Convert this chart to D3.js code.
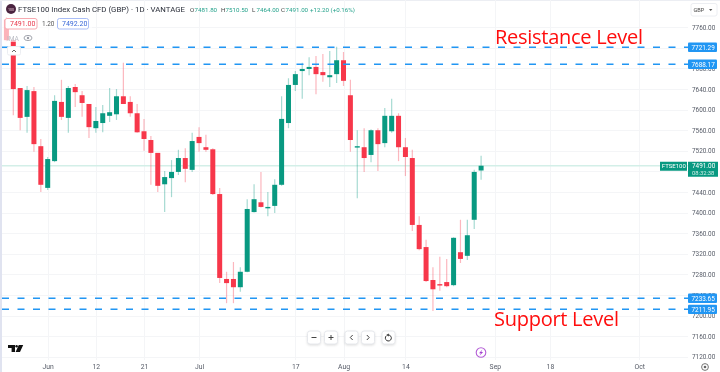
<!DOCTYPE html>
<html><head><meta charset="utf-8">
<script src="https://cdn.jsdelivr.net/npm/d3@7"></script>
<style>
html,body{margin:0;padding:0;background:#fff;overflow:hidden}
svg{display:block;filter:blur(.4px)}
text{font-family:Roboto,"Open Sans",sans-serif}
</style></head><body><div id="c"></div>
<script>
const sessions = d3.range(-1,69);
const opens=[7775,7735,7642,7586,7636,7529,7448,7500,7615,7584,7644,7628,7611,7564,7574,7588,7591,7626,7615,7593,7558,7541,7516,7455,7467,7479,7506,7483,7547,7527,7523,7436,7271,7271,7255,7285,7401,7420,7409,7413,7454,7574,7648,7675,7679,7683,7673,7663,7669,7696,7628,7527,7527,7512,7560,7535,7558,7588,7527,7506,7376,7333,7269,7261,7265,7259,7323,7316,7386,7481.8];
const highs=[7780,7738,7642,7646,7644,7543,7508,7628,7658,7646,7650,7636,7611,7605,7609,7642,7640,7691,7626,7611,7582,7549,7516,7481,7502,7522,7525,7555,7566,7551,7525,7448,7285,7304,7294,7426,7455,7479,7440,7465,7626,7661,7675,7691,7702,7704,7708,7714,7722,7712,7658,7560,7564,7562,7564,7603,7621,7593,7545,7522,7393,7347,7294,7314,7310,7352,7386,7386,7483,7510.5];
const lows=[7733,7589,7560,7555,7518,7440,7444,7498,7580,7555,7605,7586,7545,7555,7556,7576,7580,7611,7586,7555,7520,7454,7440,7401,7430,7473,7459,7479,7518,7518,7434,7263,7224,7224,7246,7284,7400,7410,7393,7399,7452,7564,7636,7621,7667,7630,7654,7644,7652,7646,7518,7428,7479,7498,7481,7527,7555,7500,7471,7364,7327,7265,7209,7248,7255,7257,7302,7308,7368,7464];
const closes=[7735,7640,7584,7638,7533,7454,7504,7617,7586,7642,7634,7613,7566,7578,7593,7595,7626,7611,7593,7556,7543,7516,7452,7469,7479,7506,7485,7539,7535,7522,7436,7273,7263,7255,7285,7407,7426,7411,7411,7454,7582,7648,7669,7679,7683,7669,7667,7667,7696,7656,7541,7529,7506,7560,7533,7588,7588,7527,7508,7376,7329,7267,7251,7259,7257,7351,7310,7356,7479,7491];
const priceTicks=d3.range(7120,7761,40);
const priceLabelTicks=priceTicks.filter(d=>d!==7720&&d!==7480);
const dateLabels=["Jun","12","21","Jul","17","Aug","14","Sep","18","Oct"];
const dateSessions=[5,12,19,27,41,48,57,70,78,91];
const levels=[7721.29,7688.17,7233.65,7211.95];
const lastPrice=7491, countdown="08:32:38";
const annotations=[["Resistance Level",7721.29],["Support Level",7211.95]];

const W=720,H=372,red="#f7374a",green="#089981",blue="#2196f3";
const x=d3.scaleLinear().domain([0,68]).range([13.3,481.1]);
const y=d3.scaleLinear().domain([7120,7760]).range([356.7,27.3]);
const svg=d3.select("#c").append("svg").attr("width",W).attr("height",H);
svg.append("rect").attr("width",W).attr("height",H).attr("fill","#fff");
svg.append("rect").attr("width",2).attr("height",H).attr("fill","#e0e3f0");
svg.append("rect").attr("width",W).attr("height",1).attr("fill","#eceef3");

const grid=svg.append("g").attr("stroke","#f4f5f7").attr("stroke-width",1);
grid.selectAll("line.h").data(priceTicks).join("line").attr("class","h").attr("x1",2).attr("x2",688).attr("y1",d=>Math.round(y(d))+.5).attr("y2",d=>Math.round(y(d))+.5);
grid.selectAll("line.v").data(dateSessions).join("line").attr("class","v").attr("y1",0).attr("y2",360).attr("x1",d=>Math.round(x(d))+.5).attr("x2",d=>Math.round(x(d))+.5);

svg.append("line").attr("x1",2).attr("x2",688).attr("y1",y(lastPrice)).attr("y2",y(lastPrice)).attr("stroke","#d3efe8").attr("stroke-width",1.6);

const candles=svg.append("g").selectAll("g").data(sessions).join("g");
const col=(s,k)=>closes[k]>=opens[k]?green:red;
candles.append("line").attr("x1",d=>x(d)).attr("x2",d=>x(d)).attr("y1",(d,k)=>y(highs[k])).attr("y2",(d,k)=>y(lows[k]))
  .attr("stroke",col).attr("stroke-opacity",.36).attr("stroke-width",1.2);
candles.append("rect").attr("x",d=>x(d)-2.5).attr("width",5)
  .attr("y",(d,k)=>y(Math.max(opens[k],closes[k])))
  .attr("height",(d,k)=>Math.max(1.4,Math.abs(y(opens[k])-y(closes[k]))))
  .attr("fill",col);

const ax=svg.append("g").attr("transform","translate(688,0)").call(d3.axisRight(y).tickValues(priceLabelTicks).tickFormat(d3.format(".2f")).tickSize(0).tickPadding(4));
ax.select(".domain").remove();
ax.selectAll("text").attr("font-size",6.4).attr("fill","#555a66").attr("style","font-family:Roboto,sans-serif");
const bx=svg.append("g").attr("transform","translate(0,362.5)").call(d3.axisBottom(x).tickValues(dateSessions).tickFormat((d,k)=>dateLabels[k]).tickSize(0).tickPadding(2));
bx.select(".domain").remove();
bx.selectAll("text").attr("font-size",6.8).attr("fill","#555a66").attr("style","font-family:Roboto,sans-serif");

const dash=svg.append("g");
dash.selectAll("line").data(levels).join("line").attr("x1",2).attr("x2",688).attr("y1",d=>y(d)).attr("y2",d=>y(d))
  .attr("stroke",blue).attr("stroke-width",1.5).attr("stroke-dasharray","7 8.5");
const tag=svg.append("g").selectAll("g").data(levels).join("g").attr("transform",d=>`translate(688,${y(d)})`);
tag.append("rect").attr("y",-4.7).attr("width",29).attr("height",9.4).attr("rx",1).attr("fill",blue);
tag.append("text").attr("x",3.5).attr("y",2.4).attr("font-size",6.4).attr("fill","#fff").text(d=>d.toFixed(2));

svg.append("rect").attr("x",660).attr("y",y(lastPrice)-4).attr("width",27).attr("height",9).attr("fill",green);
svg.append("text").attr("x",661.8).attr("y",y(lastPrice)+2.3).attr("font-size",6).attr("fill","#fff").text("FTSE100");
svg.append("rect").attr("x",688).attr("y",y(lastPrice)-4).attr("width",30).attr("height",15).attr("fill",green);
svg.append("text").attr("x",692).attr("y",y(lastPrice)+2.4).attr("font-size",6.4).attr("fill","#fff").text(lastPrice.toFixed(2));
svg.append("text").attr("x",692).attr("y",y(lastPrice)+9.2).attr("font-size",5.8).attr("fill","#d5efe9").text(countdown);

svg.append("g").selectAll("text").data(annotations).join("text")
  .attr("x",(d,k)=>k?494:495).attr("y",(d,k)=>y(d[1])+(k?17:-3)).attr("font-size",20).attr("fill","#ff0d0d")
  .attr("style","font-family:'Open Sans',sans-serif").attr("textLength",(d,k)=>k?125:148).text(d=>d[0]);

// legend overlay
svg.append("rect").attr("x",2).attr("y",1).attr("width",90).attr("height",41).attr("fill","#fff").attr("opacity",.62);
svg.append("circle").attr("cx",11).attr("cy",9).attr("r",5).attr("fill","#4a2440");
svg.append("text").attr("x",11).attr("y",10.5).attr("text-anchor","middle").attr("font-size",3.6).attr("fill","#e9c9d6").text("100");
svg.append("text").attr("x",18).attr("y",12).attr("font-size",7.8).attr("fill","#2a2e39").attr("textLength",167).text("FTSE100 Index Cash CFD (GBP) · 1D · VANTAGE");
const ohlc=[["O","7481.80",190],["H","7510.50",221],["L","7464.00",252],["C","7491.00",281],["","+12.20 (+0.16%)",310]];
const lg=svg.append("g").selectAll("g").data(ohlc).join("g").attr("transform",d=>`translate(${d[2]},11.5)`);
lg.append("text").attr("font-size",6.2).attr("fill","#444").text(d=>d[0]);
lg.append("text").attr("x",d=>d[0]?4.6:0).attr("font-size",6.2).attr("fill","#26a28c").text(d=>d[1]);
svg.append("rect").attr("x",5).attr("y",18.5).attr("width",32).attr("height",10.5).attr("rx",2).attr("fill","#fff").attr("stroke","#f7a9b0");
svg.append("text").attr("x",10).attr("y",26).attr("font-size",7).attr("fill","#e8364a").text("7491.00");
svg.append("text").attr("x",42).attr("y",26).attr("font-size",6.4).attr("fill","#555").text("1.20");
svg.append("rect").attr("x",57.5).attr("y",18.5).attr("width",31).attr("height",10.5).attr("rx",2).attr("fill","#fff").attr("stroke","#a9bdf7");
svg.append("text").attr("x",62).attr("y",26).attr("font-size",7).attr("fill","#3a68d8").text("7492.20");
svg.append("text").attr("x",7).attr("y",41).attr("font-size",6.6).attr("fill","#b9bcc4").text("IMA");
svg.append("ellipse").attr("cx",28).attr("cy",38).attr("rx",4).attr("ry",2.6).attr("fill","none").attr("stroke","#9a9da6").attr("stroke-width",.9);
svg.append("circle").attr("cx",28).attr("cy",38).attr("r",1.2).attr("fill","#9a9da6");
svg.append("rect").attr("x",7.5).attr("y",46.5).attr("width",13).attr("height",8.5).attr("rx",1.5).attr("fill","#fff").attr("stroke","#eceef2");
svg.append("path").attr("d","M12 52l2-2 2 2").attr("fill","none").attr("stroke","#555").attr("stroke-width",.9);

// GBP button
svg.append("rect").attr("x",691).attr("y",3.5).attr("width",26).attr("height",12.5).attr("rx",2).attr("fill","#fff").attr("stroke","#eceef2");
svg.append("text").attr("x",693.5).attr("y",12).attr("font-size",5.6).attr("fill","#444").text("GBP");
svg.append("path").attr("d","M709 9h3.4l-1.7 2z").attr("fill","#555");

// TV logo
svg.append("path").attr("fill","#111").attr("d","M8 345h7v7h-3.4v-4H8zM15.6 352l3.2-7h4.4l-3.2 7z");
svg.append("circle").attr("cx",16.6).attr("cy",346.3).attr("r",1.2).attr("fill","#111");

// nav buttons
const nav=[[314,"M311.5 337.5h5"],[331,"M328.5 337.5h5M331 335v5"],[351.5,"M352.7 335l-2.4 2.5 2.4 2.5"],[368,"M366.8 335l2.4 2.5-2.4 2.5"],[388.5,""]];
const ng=svg.append("g");
nav.forEach(n=>{
  ng.append("rect").attr("x",n[0]-6.5).attr("y",331).attr("width",13).attr("height",13).attr("rx",2.5).attr("fill","#fff").attr("stroke","#e6e8ec").attr("stroke-width",1).style("filter","drop-shadow(0 1px 1px rgba(0,0,0,.12))");
  if(n[1]) ng.append("path").attr("d",n[1]).attr("fill","none").attr("stroke","#444").attr("stroke-width",1);
});
ng.append("path").attr("d","M386.3 335.8a3 3 0 1 0 2.2-.8").attr("fill","none").attr("stroke","#333").attr("stroke-width",1);
ng.append("path").attr("d","M388.8 333.4v3l-2.6-1.5z").attr("fill","#333");

// lightning + settings icons
svg.append("circle").attr("cx",481).attr("cy",352.5).attr("r",4.8).attr("fill","#fff").attr("stroke","#b45fd6").attr("stroke-width",1.1);
svg.append("path").attr("d","M482.4 349.4l-3.4 3.8h1.9l-1.3 2.6 3.5-3.9h-1.9z").attr("fill","#a53fd0");
svg.append("circle").attr("cx",705).attr("cy",367).attr("r",3.4).attr("fill","none").attr("stroke","#666").attr("stroke-width",.9);
svg.append("circle").attr("cx",705).attr("cy",367).attr("r",1.3).attr("fill","#666");
</script></body></html>
